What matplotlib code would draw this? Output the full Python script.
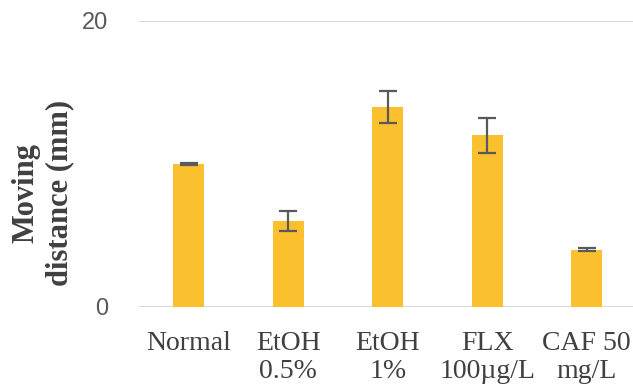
import matplotlib
matplotlib.use("Agg")
import matplotlib.pyplot as plt

categories = ["Normal", "EtOH\n0.5%", "EtOH\n1%", "FLX\n100\u00b5g/L", "CAF 50\nmg/L"]
values = [10.0, 6.0, 14.0, 12.0, 4.0]
errors = [0.1, 0.7, 1.1, 1.2, 0.1]
yticks = [0, 20]

fig = plt.figure(figsize=(6.33, 3.86), dpi=100)
ax = fig.add_axes([0.2196, 0.2047, 0.786, 0.7409])

x = list(range(len(categories)))
ax.bar(x, values, width=0.31, color="#FBC02D", zorder=2)
ax.errorbar(x, values, yerr=errors, fmt="none", ecolor="#595959",
            elinewidth=1.6, capsize=6.5, capthick=1.6, zorder=3)

ax.set_xlim(-0.5, 4.5)
ax.set_ylim(0, 20)
ax.set_yticks(yticks)
ax.yaxis.grid(True, color="#d9d9d9", linewidth=1.5, zorder=1)
ax.set_axisbelow(True)
for s in ax.spines.values():
    s.set_visible(False)
ax.tick_params(axis="both", length=0)
ax.tick_params(axis="y", pad=22)
ax.tick_params(axis="x", pad=17)

ax.set_xticks(x)
ax.set_xticklabels(categories, family="Liberation Serif", fontsize=20,
                   color="#404040", linespacing=1.2)
for lbl in ax.get_yticklabels():
    lbl.set_family("Liberation Sans")
    lbl.set_fontsize(17)
    lbl.set_color("#595959")

ax.set_ylabel("Moving\ndistance (mm)", family="Liberation Serif", fontsize=22,
              fontweight="bold", color="#404040", linespacing=1.2)
ax.yaxis.set_label_coords(-0.13, 0.40)

fig.savefig("out.png", dpi=100)
